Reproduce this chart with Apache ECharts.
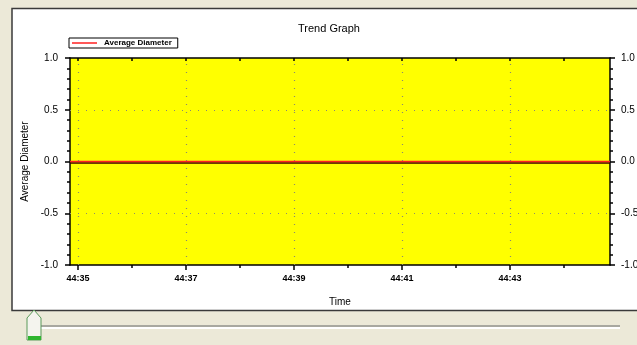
<!DOCTYPE html>
<html>
<head>
<meta charset="utf-8">
<script src="https://cdn.jsdelivr.net/npm/echarts@6/dist/echarts.min.js"></script>
<style>
html,body{margin:0;padding:0;background:#ECE9D8;}
#c{width:637px;height:345px;}
</style>
</head>
<body>
<div id="c"></div>
<script>
// Time in seconds (label "44:35" = 44 min 35 s)
const xMin = 2674.85;
const xMax = 2684.85;
const majorTicks = [2675, 2677, 2679, 2681, 2683];
const tickLabels = ['44:35', '44:37', '44:39', '44:41', '44:43'];
const minorTicks = [2676, 2678, 2680, 2682, 2684];
const times = [2674.85, 2676, 2678, 2680, 2682, 2684, 2684.85];
const values = [0, 0, 0, 0, 0, 0, 0];
const yTickLabels = ['-1.0', '-0.5', '0.0', '0.5', '1.0'];
const seriesName = 'Average Diameter';

const FONT = 'Liberation Sans';
const chart = echarts.init(document.getElementById('c'), null, {renderer: 'canvas'});

const labelFmt = v => {
  const i = majorTicks.indexOf(Math.round(v));
  return i >= 0 ? tickLabels[i] : '';
};
const yFmt = v => {
  const i = Math.round((v + 1) / 0.5);
  return yTickLabels[i] !== undefined ? yTickLabels[i] : '';
};

const yCommon = {
  type: 'value', min: -1, max: 1, interval: 0.5,
  axisLine: {show: true, onZero: false, lineStyle: {color: '#000', width: 1.5}},
  axisTick: {show: true, length: 5, lineStyle: {color: '#000', width: 1.5}},
  minorTick: {show: true, splitNumber: 5, length: 3, lineStyle: {color: '#000', width: 1.5}},
  axisLabel: {color: '#000', fontSize: 10, fontFamily: FONT, margin: 12, formatter: yFmt},
  splitLine: {show: false}
};

chart.setOption({
  animation: false,
  backgroundColor: '#ECE9D8',
  title: {
    text: 'Trend Graph', left: 293, top: 18,
    textStyle: {fontSize: 11, fontWeight: 'normal', color: '#000', fontFamily: FONT}
  },
  legend: {
    data: [{name: seriesName, icon: 'rect'}],
    left: 69, top: 38,
    backgroundColor: '#fff',
    borderColor: '#000', borderWidth: 1, borderRadius: 0,
    padding: [1, 6, 1, 3],
    itemWidth: 25, itemHeight: 1.5, itemGap: 4,
    textStyle: {fontSize: 8, color: '#000', fontFamily: FONT, fontWeight: 'bold', padding: [0,0,0,2]}
  },
  graphic: [
    {type: 'rect', z: -100, zlevel: 0, silent: true,
     shape: {x: 12, y: 8.5, width: 640, height: 302},
     style: {fill: '#fff', stroke: '#3a3a3a', lineWidth: 1.5}},
    {type: 'rect', z: -100, silent: true,
     shape: {x: 40, y: 325, width: 580, height: 2},
     style: {fill: '#a8a8a0'}},
    {type: 'rect', z: -100, silent: true,
     shape: {x: 40, y: 327, width: 580, height: 2},
     style: {fill: '#ffffff'}},
    {type: 'polygon', z: -90, silent: true,
     shape: {points: [[27, 318], [34, 310], [41, 318], [41, 340], [27, 340]]},
     style: {fill: '#f4f4ee', stroke: '#5a9a5a', lineWidth: 1}},
    {type: 'rect', z: -89, silent: true,
     shape: {x: 28, y: 336, width: 13, height: 4},
     style: {fill: '#2fb52f'}}
  ],
  grid: {
    left: 70, right: 27, top: 58, bottom: 80,
    containLabel: false, outerBoundsMode: 'none',
    show: true, backgroundColor: '#ffff00', borderWidth: 0
  },
  xAxis: [
    {
      type: 'value', min: xMin, max: xMax, position: 'bottom',
      name: 'Time', nameLocation: 'middle', nameGap: 32,
      nameTextStyle: {fontSize: 10, color: '#000', fontFamily: FONT},
      axisLine: {show: true, onZero: false, lineStyle: {color: '#000', width: 1.5}},
      axisTick: {show: true, length: 5, customValues: majorTicks, lineStyle: {color: '#000', width: 1.5}},
      axisLabel: {show: true, customValues: majorTicks, formatter: labelFmt,
                  color: '#000', fontSize: 9, fontFamily: FONT, fontWeight: 'bold', margin: 9},
      splitLine: {show: false}
    },
    {
      type: 'value', min: xMin, max: xMax, position: 'bottom',
      axisLine: {show: false, onZero: false},
      axisTick: {show: true, length: 3, customValues: minorTicks, lineStyle: {color: '#000', width: 1.5}},
      axisLabel: {show: false},
      splitLine: {show: false}
    },
    {
      type: 'value', min: xMin, max: xMax, position: 'top',
      axisLine: {show: true, onZero: false, lineStyle: {color: '#000', width: 1.5}},
      axisTick: {show: true, inside: true, length: 3,
                 customValues: majorTicks.concat(minorTicks), lineStyle: {color: '#000', width: 1.5}},
      axisLabel: {show: false},
      splitLine: {show: false}
    }
  ],
  yAxis: [
    Object.assign({}, yCommon, {
      position: 'left',
      name: 'Average Diameter', nameLocation: 'middle', nameGap: 40,
      nameTextStyle: {fontSize: 10, color: '#000', fontFamily: FONT}
    }),
    Object.assign({}, yCommon, {position: 'right', axisLabel: Object.assign({}, yCommon.axisLabel, {margin: 11})})
  ],
  series: [
    {
      name: seriesName, type: 'line', xAxisIndex: 0, yAxisIndex: 0,
      data: times.map((t, i) => [t, values[i]]),
      showSymbol: false, symbol: 'none',
      color: '#ff2020',
      lineStyle: {color: '#ff2020', width: 1.5,
                  shadowColor: '#3a0000', shadowBlur: 0, shadowOffsetY: 1.5},
      z: 5,
      markLine: {
        silent: true, symbol: 'none', label: {show: false}, z: 1,
        lineStyle: {color: '#8a8a70', type: [1, 7], width: 1.2, shadowBlur: 0, shadowOffsetY: 0},
        data: majorTicks.map(v => ({xAxis: v})).concat([{yAxis: 0.5}, {yAxis: -0.5}])
      }
    }
  ]
});
</script>
</body>
</html>
